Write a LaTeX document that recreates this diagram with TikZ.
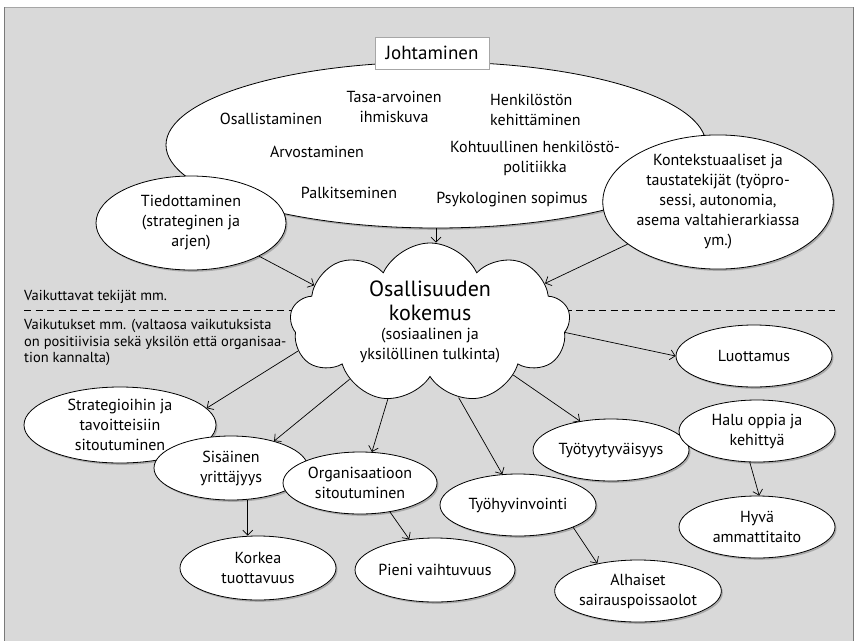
\documentclass[tikz,border=0pt]{standalone}
\usepackage{fontspec}
\setmainfont{PT Sans}
\usetikzlibrary{shapes.geometric,shapes.symbols,shadows,arrows.meta}

\definecolor{panel}{HTML}{D9D9D9}
\definecolor{rim}{HTML}{7A7A7A}

\begin{document}
\begin{tikzpicture}[x=1pt,y=-1pt,
  softshadow/.style={drop shadow={shadow xshift=1.5pt,shadow yshift=-1.8pt,opacity=0.22,fill=black}},
  bubble/.style={ellipse,draw=black,fill=white,line width=0.8pt,inner sep=0pt,
    align=center,font=\fontsize{16}{20}\selectfont,softshadow},
  small/.style={ellipse,bubble,minimum width=156pt,minimum height=62pt},
  inner/.style={align=center,font=\fontsize{16}{20}\selectfont,inner sep=0pt},
  note/.style={align=left,font=\fontsize{14.5}{16.5}\selectfont,inner sep=0pt},
  arr/.style={-{Straight Barb[length=5pt,width=10pt]},line width=0.7pt}]

\useasboundingbox (0,0) rectangle (856,640);

% panel
\fill[panel] (4,7) rectangle (854,645);
\draw[gray!70,line width=0.6pt] (4,7) -- (854,7);
\draw[rim,line width=1pt] (4.5,7) -- (4.5,645) (853.5,7) -- (853.5,645);

% leadership ellipse and its contents
\node[bubble,minimum width=540pt,minimum height=166pt] (lead) at (436,145) {};
\node[inner] (osal) at (271,119) {Osallistaminen};
\node[inner] (tasa) at (394,107) {Tasa-arvoinen\\ihmiskuva};
\node[inner,align=left,anchor=west] (henk) at (490,110) {Henkilöstön\\kehittäminen};
\node[inner] (arvo) at (317,152) {Arvostaminen};
\node[inner] (kohtu) at (535,158) {Kohtuullinen henkilöstö-\\politiikka};
\node[inner] (palk) at (349,193) {Palkitseminen};
\node[inner] (psyk) at (512,200) {Psykologinen sopimus};

\node[draw=gray!70,fill=white,line width=0.6pt,minimum width=114pt,minimum height=32pt,
  inner sep=0pt,font=\fontsize{19}{22}\selectfont] (johto) at (432,53) {Johtaminen};

\node[bubble,minimum width=190pt,minimum height=94pt] (tied) at (191,223)
  {Tiedottaminen\\(strateginen ja\\arjen)};
\node[bubble,minimum width=186pt,minimum height=124pt] (kont) at (718,202)
  {Kontekstuaaliset ja\\taustatekijät (työpro-\\sessi, autonomia,\\asema valtahierarkiassa\\ym.)};

% divider between causes and effects
\coordinate (dl) at (24,310);
\coordinate (dr) at (835,310);
\draw[dash pattern=on 7pt off 4.5pt,line width=0.7pt] (dl) -- (dr);

\node[note,anchor=west] (causes) at (24,297) {Vaikuttavat tekijät mm.};
\node[note,anchor=north west] (effects) at (24,319)
  {Vaikutukset mm. (valtaosa vaikutuksista\\on positiivisia sekä yksilön että organisaa-\\tion kannalta)};

% central cloud
\node[cloud,cloud puffs=9,cloud puff arc=130,cloud ignores aspect,draw=black,fill=white,
  line width=0.8pt,minimum width=280pt,minimum height=160pt,inner sep=0pt] (cloud) at (430,323) {};
\node[align=center,inner sep=0pt,font=\fontsize{22}{24}\selectfont] (ctitle) at (430,301)
  {Osallisuuden\\kokemus};
\node[inner] (csub) at (430,346) {(sosiaalinen ja\\yksilöllinen tulkinta)};

% effects
\node[bubble,minimum width=192pt,minimum height=76pt] (strat) at (120,425)
  {Strategioihin ja\\tavoitteisiin\\sitoutuminen};
\node[small,minimum width=154pt,minimum height=64pt] (sis) at (231,468) {Sisäinen\\yrittäjyys};
\node[small,minimum width=154pt,minimum height=62pt] (org) at (360,483) {Organisaatioon\\sitoutuminen};
\node[small,minimum width=156pt,minimum height=62pt] (luot) at (754,356) {Luottamus};
\node[small] (tyyt) at (611,450) {Työtyytyväisyys};
\node[small] (halu) at (757,431) {Halu oppia ja\\kehittyä};
\node[small] (tyhv) at (518,505) {Työhyvinvointi};
\node[small,minimum height=64pt] (kork) at (258,568) {Korkea\\tuottavuus};
\node[small,minimum height=64pt] (pien) at (435,570) {Pieni vaihtuvuus};
\node[small] (alha) at (638,591) {Alhaiset\\sairauspoissaolot};
\node[small] (hyva) at (757,527) {Hyvä\\ammattitaito};

% connectors
\draw[arr] (lead.south) -- (lead.south |- cloud.north);
\draw[arr] (tied.-26) -- (cloud.162);
\draw[arr] (kont.205) -- (cloud.19);
\draw[arr] (cloud.-4) -- (luot.west);
\draw[arr] (cloud.192) -- (strat.11);
\draw[arr] (cloud.215) -- (sis.32);
\draw[arr] (cloud.241) -- (org.69);
\draw[arr] (cloud.-69) -- (tyhv.117);
\draw[arr] (cloud.-32) -- (tyyt.137);
\draw[arr] (sis.-62) -- (sis.-62 |- kork.north);
\draw[arr] (org.-44) -- (pien.130);
\draw[arr] (tyhv.-22) -- (alha.146);
\draw[arr] (halu.257) -- (hyva.86);
\end{tikzpicture}
\end{document}
